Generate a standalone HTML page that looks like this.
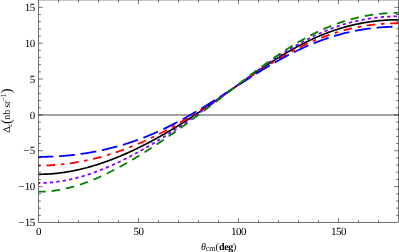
<!DOCTYPE html>
<html><head><meta charset="utf-8"><title>plot</title>
<style>html,body{margin:0;padding:0;background:#fff;}body{width:399px;height:252px;overflow:hidden;font-family:"Liberation Serif",serif;}svg{display:block;will-change:transform;}svg text{text-rendering:geometricPrecision;}</style>
</head><body>
<svg width="399" height="252" viewBox="0 0 399 252">
<rect x="0" y="0" width="399" height="252" fill="#fff"/>
<defs><clipPath id="cp"><rect x="38.50" y="-0.05" width="360.00" height="222.55"/></clipPath></defs>
<line x1="38.50" y1="115.00" x2="398.50" y2="115.00" stroke="#a4a4a4" stroke-width="1.8"/>
<g clip-path="url(#cp)" fill="none" stroke-linecap="butt" stroke-linejoin="round">
<path d="M38.50 174.30 L39.50 174.30 L40.50 174.29 L41.50 174.27 L42.50 174.25 L43.50 174.23 L44.50 174.19 L45.50 174.16 L46.50 174.11 L47.50 174.06 L48.50 174.01 L49.50 173.95 L50.50 173.88 L51.50 173.81 L52.50 173.73 L53.50 173.64 L54.50 173.55 L55.50 173.46 L56.50 173.36 L57.50 173.25 L58.50 173.14 L59.50 173.02 L60.50 172.89 L61.50 172.76 L62.50 172.63 L63.50 172.49 L64.50 172.34 L65.50 172.19 L66.50 172.03 L67.50 171.87 L68.50 171.70 L69.50 171.52 L70.50 171.34 L71.50 171.16 L72.50 170.97 L73.50 170.77 L74.50 170.57 L75.50 170.37 L76.50 170.15 L77.50 169.94 L78.50 169.71 L79.50 169.49 L80.50 169.25 L81.50 169.01 L82.50 168.77 L83.50 168.52 L84.50 168.27 L85.50 168.01 L86.50 167.75 L87.50 167.48 L88.50 167.21 L89.50 166.93 L90.50 166.64 L91.50 166.36 L92.50 166.06 L93.50 165.76 L94.50 165.46 L95.50 165.15 L96.50 164.84 L97.50 164.52 L98.50 164.20 L99.50 163.88 L100.50 163.55 L101.50 163.21 L102.50 162.87 L103.50 162.52 L104.50 162.18 L105.50 161.82 L106.50 161.46 L107.50 161.10 L108.50 160.73 L109.50 160.36 L110.50 159.99 L111.50 159.61 L112.50 159.22 L113.50 158.83 L114.50 158.44 L115.50 158.04 L116.50 157.64 L117.50 157.24 L118.50 156.83 L119.50 156.41 L120.50 156.00 L121.50 155.57 L122.50 155.15 L123.50 154.72 L124.50 154.28 L125.50 153.85 L126.50 153.40 L127.50 152.96 L128.50 152.51 L129.50 152.06 L130.50 151.60 L131.50 151.14 L132.50 150.67 L133.50 150.20 L134.50 149.73 L135.50 149.25 L136.50 148.77 L137.50 148.29 L138.50 147.80 L139.50 147.31 L140.50 146.82 L141.50 146.32 L142.50 145.82 L143.50 145.31 L144.50 144.80 L145.50 144.29 L146.50 143.77 L147.50 143.25 L148.50 142.73 L149.50 142.20 L150.50 141.67 L151.50 141.14 L152.50 140.60 L153.50 140.06 L154.50 139.51 L155.50 138.97 L156.50 138.42 L157.50 137.86 L158.50 137.30 L159.50 136.74 L160.50 136.18 L161.50 135.61 L162.50 135.04 L163.50 134.47 L164.50 133.89 L165.50 133.31 L166.50 132.73 L167.50 132.14 L168.50 131.55 L169.50 130.96 L170.50 130.36 L171.50 129.76 L172.50 129.16 L173.50 128.56 L174.50 127.95 L175.50 127.34 L176.50 126.72 L177.50 126.11 L178.50 125.49 L179.50 124.86 L180.50 124.24 L181.50 123.61 L182.50 122.98 L183.50 122.35 L184.50 121.71 L185.50 121.07 L186.50 120.43 L187.50 119.79 L188.50 119.14 L189.50 118.49 L190.50 117.84 L191.50 117.19 L192.50 116.53 L193.50 115.87 L194.50 115.21 L195.50 114.55 L196.50 113.88 L197.50 113.21 L198.50 112.54 L199.50 111.87 L200.50 111.20 L201.50 110.52 L202.50 109.84 L203.50 109.16 L204.50 108.48 L205.50 107.80 L206.50 107.11 L207.50 106.43 L208.50 105.74 L209.50 105.05 L210.50 104.36 L211.50 103.66 L212.50 102.97 L213.50 102.27 L214.50 101.57 L215.50 100.88 L216.50 100.18 L217.50 99.47 L218.50 98.77 L219.50 98.07 L220.50 97.37 L221.50 96.66 L222.50 95.96 L223.50 95.25 L224.50 94.54 L225.50 93.84 L226.50 93.13 L227.50 92.42 L228.50 91.71 L229.50 91.00 L230.50 90.29 L231.50 89.58 L232.50 88.87 L233.50 88.17 L234.50 87.46 L235.50 86.75 L236.50 86.04 L237.50 85.33 L238.50 84.62 L239.50 83.92 L240.50 83.21 L241.50 82.50 L242.50 81.80 L243.50 81.09 L244.50 80.39 L245.50 79.69 L246.50 78.99 L247.50 78.29 L248.50 77.59 L249.50 76.89 L250.50 76.19 L251.50 75.50 L252.50 74.80 L253.50 74.11 L254.50 73.42 L255.50 72.74 L256.50 72.05 L257.50 71.37 L258.50 70.68 L259.50 70.01 L260.50 69.33 L261.50 68.65 L262.50 67.98 L263.50 67.31 L264.50 66.64 L265.50 65.98 L266.50 65.32 L267.50 64.66 L268.50 64.00 L269.50 63.35 L270.50 62.70 L271.50 62.05 L272.50 61.41 L273.50 60.77 L274.50 60.13 L275.50 59.50 L276.50 58.87 L277.50 58.24 L278.50 57.62 L279.50 57.00 L280.50 56.38 L281.50 55.77 L282.50 55.16 L283.50 54.56 L284.50 53.96 L285.50 53.37 L286.50 52.78 L287.50 52.19 L288.50 51.61 L289.50 51.03 L290.50 50.46 L291.50 49.89 L292.50 49.32 L293.50 48.76 L294.50 48.21 L295.50 47.66 L296.50 47.11 L297.50 46.57 L298.50 46.04 L299.50 45.51 L300.50 44.98 L301.50 44.46 L302.50 43.94 L303.50 43.43 L304.50 42.93 L305.50 42.43 L306.50 41.93 L307.50 41.44 L308.50 40.96 L309.50 40.48 L310.50 40.01 L311.50 39.54 L312.50 39.07 L313.50 38.62 L314.50 38.16 L315.50 37.72 L316.50 37.27 L317.50 36.84 L318.50 36.41 L319.50 35.98 L320.50 35.56 L321.50 35.15 L322.50 34.74 L323.50 34.34 L324.50 33.94 L325.50 33.55 L326.50 33.17 L327.50 32.79 L328.50 32.41 L329.50 32.04 L330.50 31.68 L331.50 31.32 L332.50 30.97 L333.50 30.63 L334.50 30.29 L335.50 29.95 L336.50 29.62 L337.50 29.30 L338.50 28.98 L339.50 28.67 L340.50 28.36 L341.50 28.06 L342.50 27.77 L343.50 27.48 L344.50 27.19 L345.50 26.91 L346.50 26.64 L347.50 26.37 L348.50 26.11 L349.50 25.86 L350.50 25.61 L351.50 25.36 L352.50 25.12 L353.50 24.89 L354.50 24.66 L355.50 24.43 L356.50 24.22 L357.50 24.00 L358.50 23.80 L359.50 23.60 L360.50 23.40 L361.50 23.21 L362.50 23.02 L363.50 22.84 L364.50 22.67 L365.50 22.50 L366.50 22.33 L367.50 22.17 L368.50 22.02 L369.50 21.87 L370.50 21.73 L371.50 21.59 L372.50 21.46 L373.50 21.33 L374.50 21.21 L375.50 21.09 L376.50 20.98 L377.50 20.87 L378.50 20.77 L379.50 20.67 L380.50 20.58 L381.50 20.49 L382.50 20.41 L383.50 20.33 L384.50 20.26 L385.50 20.19 L386.50 20.13 L387.50 20.07 L388.50 20.02 L389.50 19.97 L390.50 19.93 L391.50 19.89 L392.50 19.86 L393.50 19.83 L394.50 19.81 L395.50 19.80 L396.50 19.78 L397.50 19.78 L398.50 19.77" stroke="#000000" stroke-width="1.7"/>
<path d="M38.50 165.58 L39.50 165.58 L40.50 165.58 L41.50 165.56 L42.50 165.55 L43.50 165.53 L44.50 165.50 L45.50 165.47 L46.50 165.44 L47.50 165.40 L48.50 165.36 L49.50 165.31 L50.50 165.26 L51.50 165.20 L52.50 165.14 L53.50 165.08 L54.50 165.01 L55.50 164.93 L56.50 164.85 L57.50 164.77 L58.50 164.68 L59.50 164.59 L60.50 164.50 L61.50 164.39 L62.50 164.29 L63.50 164.18 L64.50 164.06 L65.50 163.95 L66.50 163.82 L67.50 163.69 L68.50 163.56 L69.50 163.43 L70.50 163.29 L71.50 163.14 L72.50 162.99 L73.50 162.84 L74.50 162.68 L75.50 162.51 L76.50 162.35 L77.50 162.18 L78.50 162.00 L79.50 161.82 L80.50 161.63 L81.50 161.45 L82.50 161.25 L83.50 161.05 L84.50 160.85 L85.50 160.65 L86.50 160.44 L87.50 160.22 L88.50 160.00 L89.50 159.78 L90.50 159.55 L91.50 159.32 L92.50 159.08 L93.50 158.84 L94.50 158.60 L95.50 158.35 L96.50 158.09 L97.50 157.84 L98.50 157.57 L99.50 157.31 L100.50 157.04 L101.50 156.76 L102.50 156.48 L103.50 156.20 L104.50 155.91 L105.50 155.62 L106.50 155.33 L107.50 155.03 L108.50 154.72 L109.50 154.42 L110.50 154.10 L111.50 153.79 L112.50 153.47 L113.50 153.14 L114.50 152.81 L115.50 152.48 L116.50 152.14 L117.50 151.80 L118.50 151.46 L119.50 151.11 L120.50 150.75 L121.50 150.39 L122.50 150.03 L123.50 149.67 L124.50 149.30 L125.50 148.92 L126.50 148.55 L127.50 148.16 L128.50 147.78 L129.50 147.39 L130.50 146.99 L131.50 146.59 L132.50 146.19 L133.50 145.79 L134.50 145.37 L135.50 144.96 L136.50 144.54 L137.50 144.12 L138.50 143.69 L139.50 143.26 L140.50 142.83 L141.50 142.39 L142.50 141.95 L143.50 141.50 L144.50 141.05 L145.50 140.60 L146.50 140.14 L147.50 139.68 L148.50 139.21 L149.50 138.74 L150.50 138.27 L151.50 137.79 L152.50 137.31 L153.50 136.82 L154.50 136.33 L155.50 135.84 L156.50 135.35 L157.50 134.84 L158.50 134.34 L159.50 133.83 L160.50 133.32 L161.50 132.81 L162.50 132.29 L163.50 131.76 L164.50 131.24 L165.50 130.71 L166.50 130.17 L167.50 129.64 L168.50 129.10 L169.50 128.55 L170.50 128.01 L171.50 127.45 L172.50 126.90 L173.50 126.34 L174.50 125.78 L175.50 125.21 L176.50 124.65 L177.50 124.07 L178.50 123.50 L179.50 122.92 L180.50 122.34 L181.50 121.76 L182.50 121.17 L183.50 120.58 L184.50 119.98 L185.50 119.39 L186.50 118.79 L187.50 118.18 L188.50 117.58 L189.50 116.97 L190.50 116.36 L191.50 115.74 L192.50 115.13 L193.50 114.51 L194.50 113.89 L195.50 113.26 L196.50 112.63 L197.50 112.00 L198.50 111.37 L199.50 110.74 L200.50 110.10 L201.50 109.46 L202.50 108.82 L203.50 108.18 L204.50 107.53 L205.50 106.88 L206.50 106.23 L207.50 105.58 L208.50 104.93 L209.50 104.27 L210.50 103.61 L211.50 102.96 L212.50 102.29 L213.50 101.63 L214.50 100.97 L215.50 100.30 L216.50 99.64 L217.50 98.97 L218.50 98.30 L219.50 97.63 L220.50 96.96 L221.50 96.29 L222.50 95.62 L223.50 94.94 L224.50 94.27 L225.50 93.60 L226.50 92.92 L227.50 92.24 L228.50 91.57 L229.50 90.89 L230.50 90.21 L231.50 89.54 L232.50 88.86 L233.50 88.18 L234.50 87.50 L235.50 86.83 L236.50 86.15 L237.50 85.47 L238.50 84.80 L239.50 84.12 L240.50 83.45 L241.50 82.77 L242.50 82.10 L243.50 81.43 L244.50 80.75 L245.50 80.08 L246.50 79.41 L247.50 78.74 L248.50 78.08 L249.50 77.41 L250.50 76.75 L251.50 76.08 L252.50 75.42 L253.50 74.76 L254.50 74.10 L255.50 73.45 L256.50 72.79 L257.50 72.14 L258.50 71.49 L259.50 70.84 L260.50 70.19 L261.50 69.55 L262.50 68.91 L263.50 68.27 L264.50 67.63 L265.50 67.00 L266.50 66.37 L267.50 65.74 L268.50 65.11 L269.50 64.49 L270.50 63.87 L271.50 63.26 L272.50 62.64 L273.50 62.03 L274.50 61.43 L275.50 60.82 L276.50 60.22 L277.50 59.63 L278.50 59.03 L279.50 58.45 L280.50 57.86 L281.50 57.28 L282.50 56.70 L283.50 56.13 L284.50 55.56 L285.50 54.99 L286.50 54.43 L287.50 53.87 L288.50 53.32 L289.50 52.77 L290.50 52.23 L291.50 51.69 L292.50 51.15 L293.50 50.62 L294.50 50.09 L295.50 49.57 L296.50 49.05 L297.50 48.54 L298.50 48.03 L299.50 47.53 L300.50 47.03 L301.50 46.54 L302.50 46.05 L303.50 45.57 L304.50 45.09 L305.50 44.61 L306.50 44.14 L307.50 43.68 L308.50 43.22 L309.50 42.77 L310.50 42.32 L311.50 41.88 L312.50 41.44 L313.50 41.00 L314.50 40.58 L315.50 40.15 L316.50 39.74 L317.50 39.32 L318.50 38.92 L319.50 38.51 L320.50 38.12 L321.50 37.73 L322.50 37.34 L323.50 36.96 L324.50 36.59 L325.50 36.22 L326.50 35.85 L327.50 35.49 L328.50 35.14 L329.50 34.79 L330.50 34.45 L331.50 34.11 L332.50 33.78 L333.50 33.45 L334.50 33.13 L335.50 32.82 L336.50 32.51 L337.50 32.20 L338.50 31.90 L339.50 31.61 L340.50 31.32 L341.50 31.03 L342.50 30.75 L343.50 30.48 L344.50 30.21 L345.50 29.95 L346.50 29.69 L347.50 29.44 L348.50 29.19 L349.50 28.95 L350.50 28.72 L351.50 28.48 L352.50 28.26 L353.50 28.04 L354.50 27.82 L355.50 27.61 L356.50 27.41 L357.50 27.21 L358.50 27.01 L359.50 26.82 L360.50 26.64 L361.50 26.46 L362.50 26.28 L363.50 26.11 L364.50 25.95 L365.50 25.79 L366.50 25.63 L367.50 25.48 L368.50 25.34 L369.50 25.20 L370.50 25.06 L371.50 24.93 L372.50 24.80 L373.50 24.68 L374.50 24.57 L375.50 24.46 L376.50 24.35 L377.50 24.25 L378.50 24.15 L379.50 24.06 L380.50 23.98 L381.50 23.89 L382.50 23.82 L383.50 23.74 L384.50 23.68 L385.50 23.61 L386.50 23.55 L387.50 23.50 L388.50 23.45 L389.50 23.41 L390.50 23.37 L391.50 23.33 L392.50 23.30 L393.50 23.28 L394.50 23.25 L395.50 23.24 L396.50 23.23 L397.50 23.22 L398.50 23.22" stroke="#ff0000" stroke-width="1.8" stroke-dasharray="3.6 5.6 8.8 5.595" stroke-dashoffset="1.3"/>
<path d="M38.50 156.87 L39.50 156.87 L40.50 156.86 L41.50 156.86 L42.50 156.85 L43.50 156.83 L44.50 156.81 L45.50 156.79 L46.50 156.77 L47.50 156.74 L48.50 156.71 L49.50 156.68 L50.50 156.64 L51.50 156.60 L52.50 156.56 L53.50 156.51 L54.50 156.46 L55.50 156.41 L56.50 156.35 L57.50 156.29 L58.50 156.23 L59.50 156.17 L60.50 156.10 L61.50 156.03 L62.50 155.95 L63.50 155.87 L64.50 155.79 L65.50 155.70 L66.50 155.61 L67.50 155.52 L68.50 155.43 L69.50 155.33 L70.50 155.23 L71.50 155.12 L72.50 155.01 L73.50 154.90 L74.50 154.78 L75.50 154.66 L76.50 154.54 L77.50 154.42 L78.50 154.29 L79.50 154.15 L80.50 154.02 L81.50 153.88 L82.50 153.73 L83.50 153.59 L84.50 153.44 L85.50 153.28 L86.50 153.12 L87.50 152.96 L88.50 152.80 L89.50 152.63 L90.50 152.46 L91.50 152.28 L92.50 152.10 L93.50 151.92 L94.50 151.73 L95.50 151.54 L96.50 151.34 L97.50 151.15 L98.50 150.94 L99.50 150.74 L100.50 150.53 L101.50 150.32 L102.50 150.10 L103.50 149.88 L104.50 149.65 L105.50 149.42 L106.50 149.19 L107.50 148.95 L108.50 148.71 L109.50 148.47 L110.50 148.22 L111.50 147.97 L112.50 147.71 L113.50 147.45 L114.50 147.18 L115.50 146.91 L116.50 146.64 L117.50 146.36 L118.50 146.08 L119.50 145.80 L120.50 145.51 L121.50 145.22 L122.50 144.92 L123.50 144.62 L124.50 144.31 L125.50 144.00 L126.50 143.69 L127.50 143.37 L128.50 143.04 L129.50 142.72 L130.50 142.39 L131.50 142.05 L132.50 141.71 L133.50 141.37 L134.50 141.02 L135.50 140.67 L136.50 140.31 L137.50 139.95 L138.50 139.58 L139.50 139.21 L140.50 138.84 L141.50 138.46 L142.50 138.08 L143.50 137.69 L144.50 137.30 L145.50 136.91 L146.50 136.51 L147.50 136.10 L148.50 135.69 L149.50 135.28 L150.50 134.87 L151.50 134.44 L152.50 134.02 L153.50 133.59 L154.50 133.16 L155.50 132.72 L156.50 132.27 L157.50 131.83 L158.50 131.38 L159.50 130.92 L160.50 130.46 L161.50 130.00 L162.50 129.53 L163.50 129.06 L164.50 128.59 L165.50 128.11 L166.50 127.62 L167.50 127.14 L168.50 126.64 L169.50 126.15 L170.50 125.65 L171.50 125.15 L172.50 124.64 L173.50 124.13 L174.50 123.61 L175.50 123.09 L176.50 122.57 L177.50 122.04 L178.50 121.51 L179.50 120.98 L180.50 120.44 L181.50 119.90 L182.50 119.36 L183.50 118.81 L184.50 118.26 L185.50 117.70 L186.50 117.14 L187.50 116.58 L188.50 116.02 L189.50 115.45 L190.50 114.88 L191.50 114.30 L192.50 113.73 L193.50 113.14 L194.50 112.56 L195.50 111.98 L196.50 111.39 L197.50 110.79 L198.50 110.20 L199.50 109.60 L200.50 109.00 L201.50 108.40 L202.50 107.79 L203.50 107.19 L204.50 106.58 L205.50 105.96 L206.50 105.35 L207.50 104.73 L208.50 104.12 L209.50 103.49 L210.50 102.87 L211.50 102.25 L212.50 101.62 L213.50 100.99 L214.50 100.36 L215.50 99.73 L216.50 99.10 L217.50 98.47 L218.50 97.83 L219.50 97.20 L220.50 96.56 L221.50 95.92 L222.50 95.28 L223.50 94.64 L224.50 94.00 L225.50 93.35 L226.50 92.71 L227.50 92.07 L228.50 91.42 L229.50 90.78 L230.50 90.13 L231.50 89.49 L232.50 88.84 L233.50 88.20 L234.50 87.55 L235.50 86.91 L236.50 86.26 L237.50 85.62 L238.50 84.97 L239.50 84.33 L240.50 83.69 L241.50 83.04 L242.50 82.40 L243.50 81.76 L244.50 81.12 L245.50 80.48 L246.50 79.84 L247.50 79.20 L248.50 78.57 L249.50 77.93 L250.50 77.30 L251.50 76.67 L252.50 76.04 L253.50 75.41 L254.50 74.78 L255.50 74.15 L256.50 73.53 L257.50 72.91 L258.50 72.29 L259.50 71.67 L260.50 71.06 L261.50 70.44 L262.50 69.83 L263.50 69.23 L264.50 68.62 L265.50 68.02 L266.50 67.42 L267.50 66.82 L268.50 66.23 L269.50 65.63 L270.50 65.05 L271.50 64.46 L272.50 63.88 L273.50 63.30 L274.50 62.72 L275.50 62.15 L276.50 61.58 L277.50 61.01 L278.50 60.45 L279.50 59.89 L280.50 59.34 L281.50 58.79 L282.50 58.24 L283.50 57.69 L284.50 57.15 L285.50 56.62 L286.50 56.09 L287.50 55.56 L288.50 55.03 L289.50 54.51 L290.50 54.00 L291.50 53.49 L292.50 52.98 L293.50 52.48 L294.50 51.98 L295.50 51.49 L296.50 51.00 L297.50 50.51 L298.50 50.03 L299.50 49.55 L300.50 49.08 L301.50 48.62 L302.50 48.16 L303.50 47.70 L304.50 47.25 L305.50 46.80 L306.50 46.36 L307.50 45.92 L308.50 45.48 L309.50 45.06 L310.50 44.63 L311.50 44.21 L312.50 43.80 L313.50 43.39 L314.50 42.99 L315.50 42.59 L316.50 42.20 L317.50 41.81 L318.50 41.42 L319.50 41.05 L320.50 40.67 L321.50 40.30 L322.50 39.94 L323.50 39.58 L324.50 39.23 L325.50 38.88 L326.50 38.54 L327.50 38.20 L328.50 37.87 L329.50 37.54 L330.50 37.22 L331.50 36.90 L332.50 36.59 L333.50 36.28 L334.50 35.98 L335.50 35.68 L336.50 35.39 L337.50 35.10 L338.50 34.82 L339.50 34.54 L340.50 34.27 L341.50 34.00 L342.50 33.74 L343.50 33.48 L344.50 33.23 L345.50 32.99 L346.50 32.74 L347.50 32.51 L348.50 32.27 L349.50 32.05 L350.50 31.83 L351.50 31.61 L352.50 31.40 L353.50 31.19 L354.50 30.99 L355.50 30.79 L356.50 30.60 L357.50 30.41 L358.50 30.22 L359.50 30.04 L360.50 29.87 L361.50 29.70 L362.50 29.54 L363.50 29.38 L364.50 29.22 L365.50 29.07 L366.50 28.93 L367.50 28.79 L368.50 28.65 L369.50 28.52 L370.50 28.39 L371.50 28.27 L372.50 28.15 L373.50 28.04 L374.50 27.93 L375.50 27.83 L376.50 27.73 L377.50 27.63 L378.50 27.54 L379.50 27.45 L380.50 27.37 L381.50 27.30 L382.50 27.22 L383.50 27.16 L384.50 27.09 L385.50 27.03 L386.50 26.98 L387.50 26.93 L388.50 26.88 L389.50 26.84 L390.50 26.80 L391.50 26.77 L392.50 26.74 L393.50 26.72 L394.50 26.70 L395.50 26.68 L396.50 26.67 L397.50 26.66 L398.50 26.66" stroke="#0000ff" stroke-width="1.8" stroke-dasharray="15.9 5.77" stroke-dashoffset="1.1"/>
<path d="M38.50 183.01 L39.50 183.01 L40.50 183.00 L41.50 182.98 L42.50 182.95 L43.50 182.92 L44.50 182.88 L45.50 182.84 L46.50 182.78 L47.50 182.72 L48.50 182.65 L49.50 182.58 L50.50 182.50 L51.50 182.41 L52.50 182.31 L53.50 182.21 L54.50 182.10 L55.50 181.98 L56.50 181.86 L57.50 181.73 L58.50 181.59 L59.50 181.44 L60.50 181.29 L61.50 181.13 L62.50 180.97 L63.50 180.79 L64.50 180.62 L65.50 180.43 L66.50 180.24 L67.50 180.04 L68.50 179.83 L69.50 179.62 L70.50 179.40 L71.50 179.18 L72.50 178.95 L73.50 178.71 L74.50 178.47 L75.50 178.22 L76.50 177.96 L77.50 177.70 L78.50 177.43 L79.50 177.15 L80.50 176.87 L81.50 176.58 L82.50 176.29 L83.50 175.99 L84.50 175.69 L85.50 175.38 L86.50 175.06 L87.50 174.74 L88.50 174.41 L89.50 174.08 L90.50 173.74 L91.50 173.39 L92.50 173.04 L93.50 172.69 L94.50 172.33 L95.50 171.96 L96.50 171.59 L97.50 171.21 L98.50 170.83 L99.50 170.45 L100.50 170.05 L101.50 169.66 L102.50 169.26 L103.50 168.85 L104.50 168.44 L105.50 168.02 L106.50 167.60 L107.50 167.18 L108.50 166.75 L109.50 166.31 L110.50 165.87 L111.50 165.43 L112.50 164.98 L113.50 164.53 L114.50 164.07 L115.50 163.61 L116.50 163.14 L117.50 162.67 L118.50 162.20 L119.50 161.72 L120.50 161.24 L121.50 160.75 L122.50 160.26 L123.50 159.77 L124.50 159.27 L125.50 158.77 L126.50 158.26 L127.50 157.75 L128.50 157.24 L129.50 156.72 L130.50 156.20 L131.50 155.68 L132.50 155.15 L133.50 154.62 L134.50 154.09 L135.50 153.55 L136.50 153.01 L137.50 152.46 L138.50 151.91 L139.50 151.36 L140.50 150.80 L141.50 150.25 L142.50 149.68 L143.50 149.12 L144.50 148.55 L145.50 147.98 L146.50 147.40 L147.50 146.82 L148.50 146.24 L149.50 145.66 L150.50 145.07 L151.50 144.48 L152.50 143.89 L153.50 143.29 L154.50 142.69 L155.50 142.09 L156.50 141.49 L157.50 140.88 L158.50 140.27 L159.50 139.65 L160.50 139.04 L161.50 138.42 L162.50 137.79 L163.50 137.17 L164.50 136.54 L165.50 135.91 L166.50 135.28 L167.50 134.64 L168.50 134.00 L169.50 133.36 L170.50 132.72 L171.50 132.07 L172.50 131.42 L173.50 130.77 L174.50 130.12 L175.50 129.46 L176.50 128.80 L177.50 128.14 L178.50 127.47 L179.50 126.81 L180.50 126.14 L181.50 125.47 L182.50 124.79 L183.50 124.12 L184.50 123.44 L185.50 122.76 L186.50 122.08 L187.50 121.39 L188.50 120.70 L189.50 120.01 L190.50 119.32 L191.50 118.63 L192.50 117.93 L193.50 117.24 L194.50 116.54 L195.50 115.83 L196.50 115.13 L197.50 114.42 L198.50 113.72 L199.50 113.01 L200.50 112.30 L201.50 111.58 L202.50 110.87 L203.50 110.15 L204.50 109.44 L205.50 108.72 L206.50 108.00 L207.50 107.27 L208.50 106.55 L209.50 105.82 L210.50 105.10 L211.50 104.37 L212.50 103.64 L213.50 102.91 L214.50 102.18 L215.50 101.45 L216.50 100.71 L217.50 99.98 L218.50 99.24 L219.50 98.51 L220.50 97.77 L221.50 97.03 L222.50 96.29 L223.50 95.56 L224.50 94.82 L225.50 94.08 L226.50 93.34 L227.50 92.60 L228.50 91.85 L229.50 91.11 L230.50 90.37 L231.50 89.63 L232.50 88.89 L233.50 88.15 L234.50 87.41 L235.50 86.67 L236.50 85.93 L237.50 85.19 L238.50 84.45 L239.50 83.71 L240.50 82.97 L241.50 82.23 L242.50 81.50 L243.50 80.76 L244.50 80.03 L245.50 79.29 L246.50 78.56 L247.50 77.83 L248.50 77.10 L249.50 76.37 L250.50 75.64 L251.50 74.91 L252.50 74.19 L253.50 73.47 L254.50 72.75 L255.50 72.03 L256.50 71.31 L257.50 70.60 L258.50 69.88 L259.50 69.17 L260.50 68.46 L261.50 67.76 L262.50 67.05 L263.50 66.35 L264.50 65.65 L265.50 64.96 L266.50 64.27 L267.50 63.58 L268.50 62.89 L269.50 62.21 L270.50 61.52 L271.50 60.85 L272.50 60.17 L273.50 59.50 L274.50 58.83 L275.50 58.17 L276.50 57.51 L277.50 56.85 L278.50 56.20 L279.50 55.55 L280.50 54.91 L281.50 54.27 L282.50 53.63 L283.50 53.00 L284.50 52.37 L285.50 51.74 L286.50 51.12 L287.50 50.51 L288.50 49.90 L289.50 49.29 L290.50 48.69 L291.50 48.09 L292.50 47.50 L293.50 46.91 L294.50 46.32 L295.50 45.75 L296.50 45.17 L297.50 44.60 L298.50 44.04 L299.50 43.48 L300.50 42.93 L301.50 42.38 L302.50 41.84 L303.50 41.30 L304.50 40.77 L305.50 40.24 L306.50 39.72 L307.50 39.21 L308.50 38.70 L309.50 38.19 L310.50 37.69 L311.50 37.20 L312.50 36.71 L313.50 36.23 L314.50 35.75 L315.50 35.28 L316.50 34.81 L317.50 34.35 L318.50 33.90 L319.50 33.45 L320.50 33.01 L321.50 32.57 L322.50 32.14 L323.50 31.72 L324.50 31.30 L325.50 30.89 L326.50 30.48 L327.50 30.08 L328.50 29.69 L329.50 29.30 L330.50 28.91 L331.50 28.54 L332.50 28.16 L333.50 27.80 L334.50 27.44 L335.50 27.09 L336.50 26.74 L337.50 26.40 L338.50 26.06 L339.50 25.73 L340.50 25.41 L341.50 25.09 L342.50 24.78 L343.50 24.47 L344.50 24.17 L345.50 23.88 L346.50 23.59 L347.50 23.31 L348.50 23.03 L349.50 22.76 L350.50 22.50 L351.50 22.24 L352.50 21.98 L353.50 21.74 L354.50 21.49 L355.50 21.26 L356.50 21.03 L357.50 20.80 L358.50 20.58 L359.50 20.37 L360.50 20.16 L361.50 19.96 L362.50 19.76 L363.50 19.57 L364.50 19.39 L365.50 19.21 L366.50 19.04 L367.50 18.87 L368.50 18.71 L369.50 18.55 L370.50 18.40 L371.50 18.25 L372.50 18.11 L373.50 17.97 L374.50 17.84 L375.50 17.72 L376.50 17.60 L377.50 17.49 L378.50 17.38 L379.50 17.28 L380.50 17.18 L381.50 17.09 L382.50 17.00 L383.50 16.92 L384.50 16.84 L385.50 16.77 L386.50 16.71 L387.50 16.65 L388.50 16.59 L389.50 16.54 L390.50 16.50 L391.50 16.46 L392.50 16.42 L393.50 16.39 L394.50 16.37 L395.50 16.35 L396.50 16.34 L397.50 16.33 L398.50 16.33" stroke="#8000ff" stroke-width="1.8" stroke-dasharray="3.3 3.16" stroke-dashoffset="1.5"/>
<path d="M38.50 191.73 L39.50 191.72 L40.50 191.71 L41.50 191.69 L42.50 191.66 L43.50 191.62 L44.50 191.57 L45.50 191.52 L46.50 191.45 L47.50 191.38 L48.50 191.30 L49.50 191.21 L50.50 191.12 L51.50 191.01 L52.50 190.90 L53.50 190.77 L54.50 190.64 L55.50 190.50 L56.50 190.36 L57.50 190.20 L58.50 190.04 L59.50 189.87 L60.50 189.69 L61.50 189.50 L62.50 189.31 L63.50 189.10 L64.50 188.89 L65.50 188.67 L66.50 188.45 L67.50 188.21 L68.50 187.97 L69.50 187.72 L70.50 187.46 L71.50 187.20 L72.50 186.93 L73.50 186.65 L74.50 186.36 L75.50 186.07 L76.50 185.76 L77.50 185.46 L78.50 185.14 L79.50 184.82 L80.50 184.49 L81.50 184.15 L82.50 183.81 L83.50 183.46 L84.50 183.10 L85.50 182.74 L86.50 182.37 L87.50 182.00 L88.50 181.61 L89.50 181.23 L90.50 180.83 L91.50 180.43 L92.50 180.02 L93.50 179.61 L94.50 179.19 L95.50 178.77 L96.50 178.34 L97.50 177.90 L98.50 177.46 L99.50 177.01 L100.50 176.56 L101.50 176.10 L102.50 175.64 L103.50 175.17 L104.50 174.70 L105.50 174.22 L106.50 173.74 L107.50 173.25 L108.50 172.76 L109.50 172.26 L110.50 171.76 L111.50 171.25 L112.50 170.74 L113.50 170.22 L114.50 169.70 L115.50 169.17 L116.50 168.64 L117.50 168.11 L118.50 167.57 L119.50 167.03 L120.50 166.48 L121.50 165.93 L122.50 165.38 L123.50 164.82 L124.50 164.26 L125.50 163.69 L126.50 163.12 L127.50 162.55 L128.50 161.97 L129.50 161.39 L130.50 160.81 L131.50 160.22 L132.50 159.63 L133.50 159.04 L134.50 158.44 L135.50 157.84 L136.50 157.24 L137.50 156.63 L138.50 156.02 L139.50 155.41 L140.50 154.79 L141.50 154.17 L142.50 153.55 L143.50 152.93 L144.50 152.30 L145.50 151.67 L146.50 151.04 L147.50 150.40 L148.50 149.76 L149.50 149.12 L150.50 148.47 L151.50 147.83 L152.50 147.18 L153.50 146.53 L154.50 145.87 L155.50 145.22 L156.50 144.56 L157.50 143.89 L158.50 143.23 L159.50 142.56 L160.50 141.89 L161.50 141.22 L162.50 140.55 L163.50 139.87 L164.50 139.19 L165.50 138.51 L166.50 137.83 L167.50 137.14 L168.50 136.46 L169.50 135.77 L170.50 135.07 L171.50 134.38 L172.50 133.68 L173.50 132.99 L174.50 132.28 L175.50 131.58 L176.50 130.88 L177.50 130.17 L178.50 129.46 L179.50 128.75 L180.50 128.04 L181.50 127.32 L182.50 126.61 L183.50 125.89 L184.50 125.17 L185.50 124.44 L186.50 123.72 L187.50 122.99 L188.50 122.27 L189.50 121.54 L190.50 120.80 L191.50 120.07 L192.50 119.34 L193.50 118.60 L194.50 117.86 L195.50 117.12 L196.50 116.38 L197.50 115.63 L198.50 114.89 L199.50 114.14 L200.50 113.39 L201.50 112.65 L202.50 111.89 L203.50 111.14 L204.50 110.39 L205.50 109.63 L206.50 108.88 L207.50 108.12 L208.50 107.36 L209.50 106.60 L210.50 105.84 L211.50 105.08 L212.50 104.31 L213.50 103.55 L214.50 102.78 L215.50 102.02 L216.50 101.25 L217.50 100.48 L218.50 99.71 L219.50 98.94 L220.50 98.17 L221.50 97.40 L222.50 96.63 L223.50 95.86 L224.50 95.09 L225.50 94.32 L226.50 93.54 L227.50 92.77 L228.50 92.00 L229.50 91.22 L230.50 90.45 L231.50 89.68 L232.50 88.91 L233.50 88.13 L234.50 87.36 L235.50 86.59 L236.50 85.81 L237.50 85.04 L238.50 84.27 L239.50 83.50 L240.50 82.73 L241.50 81.96 L242.50 81.19 L243.50 80.43 L244.50 79.66 L245.50 78.90 L246.50 78.13 L247.50 77.37 L248.50 76.61 L249.50 75.85 L250.50 75.09 L251.50 74.33 L252.50 73.57 L253.50 72.82 L254.50 72.07 L255.50 71.32 L256.50 70.57 L257.50 69.82 L258.50 69.08 L259.50 68.34 L260.50 67.60 L261.50 66.86 L262.50 66.13 L263.50 65.40 L264.50 64.67 L265.50 63.94 L266.50 63.22 L267.50 62.49 L268.50 61.78 L269.50 61.06 L270.50 60.35 L271.50 59.64 L272.50 58.94 L273.50 58.24 L274.50 57.54 L275.50 56.84 L276.50 56.15 L277.50 55.47 L278.50 54.78 L279.50 54.11 L280.50 53.43 L281.50 52.76 L282.50 52.09 L283.50 51.43 L284.50 50.77 L285.50 50.12 L286.50 49.47 L287.50 48.82 L288.50 48.18 L289.50 47.55 L290.50 46.92 L291.50 46.29 L292.50 45.67 L293.50 45.05 L294.50 44.44 L295.50 43.83 L296.50 43.23 L297.50 42.64 L298.50 42.04 L299.50 41.46 L300.50 40.88 L301.50 40.30 L302.50 39.73 L303.50 39.17 L304.50 38.61 L305.50 38.06 L306.50 37.51 L307.50 36.97 L308.50 36.43 L309.50 35.90 L310.50 35.38 L311.50 34.86 L312.50 34.35 L313.50 33.84 L314.50 33.34 L315.50 32.84 L316.50 32.35 L317.50 31.87 L318.50 31.39 L319.50 30.92 L320.50 30.46 L321.50 30.00 L322.50 29.55 L323.50 29.10 L324.50 28.66 L325.50 28.22 L326.50 27.80 L327.50 27.37 L328.50 26.96 L329.50 26.55 L330.50 26.15 L331.50 25.75 L332.50 25.36 L333.50 24.97 L334.50 24.59 L335.50 24.22 L336.50 23.86 L337.50 23.50 L338.50 23.14 L339.50 22.80 L340.50 22.45 L341.50 22.12 L342.50 21.79 L343.50 21.47 L344.50 21.15 L345.50 20.84 L346.50 20.54 L347.50 20.24 L348.50 19.95 L349.50 19.66 L350.50 19.39 L351.50 19.11 L352.50 18.85 L353.50 18.58 L354.50 18.33 L355.50 18.08 L356.50 17.84 L357.50 17.60 L358.50 17.37 L359.50 17.15 L360.50 16.93 L361.50 16.71 L362.50 16.51 L363.50 16.31 L364.50 16.11 L365.50 15.92 L366.50 15.74 L367.50 15.56 L368.50 15.39 L369.50 15.22 L370.50 15.06 L371.50 14.91 L372.50 14.76 L373.50 14.62 L374.50 14.48 L375.50 14.35 L376.50 14.23 L377.50 14.11 L378.50 13.99 L379.50 13.88 L380.50 13.78 L381.50 13.68 L382.50 13.59 L383.50 13.51 L384.50 13.43 L385.50 13.35 L386.50 13.28 L387.50 13.22 L388.50 13.16 L389.50 13.11 L390.50 13.06 L391.50 13.02 L392.50 12.98 L393.50 12.95 L394.50 12.93 L395.50 12.91 L396.50 12.90 L397.50 12.89 L398.50 12.88" stroke="#008000" stroke-width="1.8" stroke-dasharray="8.5 6.0" stroke-dashoffset="1.35"/>
</g>
<g stroke="#000" stroke-width="0.55" fill="none">
<rect x="38.50" y="-0.05" width="360.00" height="222.55"/>
<path d="M58.50 222.50V220.10M58.50 -0.05V2.35M78.50 222.50V220.10M78.50 -0.05V2.35M98.50 222.50V220.10M98.50 -0.05V2.35M118.50 222.50V220.10M118.50 -0.05V2.35M138.50 222.50V218.20M138.50 -0.05V4.25M158.50 222.50V220.10M158.50 -0.05V2.35M178.50 222.50V220.10M178.50 -0.05V2.35M198.50 222.50V220.10M198.50 -0.05V2.35M218.50 222.50V220.10M218.50 -0.05V2.35M238.50 222.50V218.20M238.50 -0.05V4.25M258.50 222.50V220.10M258.50 -0.05V2.35M278.50 222.50V220.10M278.50 -0.05V2.35M298.50 222.50V220.10M298.50 -0.05V2.35M318.50 222.50V220.10M318.50 -0.05V2.35M338.50 222.50V218.20M338.50 -0.05V4.25M358.50 222.50V220.10M358.50 -0.05V2.35M378.50 222.50V220.10M378.50 -0.05V2.35M38.50 215.32H40.90M398.50 215.32H396.10M38.50 208.15H40.90M398.50 208.15H396.10M38.50 200.98H40.90M398.50 200.98H396.10M38.50 193.80H40.90M398.50 193.80H396.10M38.50 186.63H42.80M398.50 186.63H394.20M38.50 179.46H40.90M398.50 179.46H396.10M38.50 172.28H40.90M398.50 172.28H396.10M38.50 165.11H40.90M398.50 165.11H396.10M38.50 157.94H40.90M398.50 157.94H396.10M38.50 150.77H42.80M398.50 150.77H394.20M38.50 143.59H40.90M398.50 143.59H396.10M38.50 136.42H40.90M398.50 136.42H396.10M38.50 129.25H40.90M398.50 129.25H396.10M38.50 122.07H40.90M398.50 122.07H396.10M38.50 114.90H42.80M398.50 114.90H394.20M38.50 107.73H40.90M398.50 107.73H396.10M38.50 100.55H40.90M398.50 100.55H396.10M38.50 93.38H40.90M398.50 93.38H396.10M38.50 86.21H40.90M398.50 86.21H396.10M38.50 79.03H42.80M398.50 79.03H394.20M38.50 71.86H40.90M398.50 71.86H396.10M38.50 64.69H40.90M398.50 64.69H396.10M38.50 57.52H40.90M398.50 57.52H396.10M38.50 50.34H40.90M398.50 50.34H396.10M38.50 43.17H42.80M398.50 43.17H394.20M38.50 36.00H40.90M398.50 36.00H396.10M38.50 28.82H40.90M398.50 28.82H396.10M38.50 21.65H40.90M398.50 21.65H396.10M38.50 14.48H40.90M398.50 14.48H396.10M38.50 7.31H42.80M398.50 7.31H394.20"/>
</g>
<g font-family="Liberation Serif, serif" font-size="11" letter-spacing="-0.45" fill="#000">
<text x="34.9" y="226.19" text-anchor="end"><tspan letter-spacing="0.3">−</tspan>15</text>
<text x="34.9" y="190.33" text-anchor="end"><tspan letter-spacing="0.3">−</tspan>10</text>
<text x="34.9" y="154.47" text-anchor="end"><tspan letter-spacing="0.3">−</tspan>5</text>
<text x="34.9" y="118.60" text-anchor="end">0</text>
<text x="34.9" y="82.73" text-anchor="end">5</text>
<text x="34.9" y="46.87" text-anchor="end">10</text>
<text x="34.9" y="11.01" text-anchor="end">15</text>
<text x="38.50" y="234.8" text-anchor="middle">0</text>
<text x="138.50" y="234.8" text-anchor="middle">50</text>
<text x="238.50" y="234.8" text-anchor="middle">100</text>
<text x="338.50" y="234.8" text-anchor="middle">150</text>
</g>
<text x="200.9" y="249.8" font-family="Liberation Serif, serif" font-size="10" fill="#000"><tspan font-style="italic">θ</tspan><tspan font-size="8" dy="1.4" letter-spacing="0">cm</tspan><tspan dy="-1.4">(</tspan><tspan font-weight="bold" letter-spacing="-0.3">deg</tspan><tspan>)</tspan></text>
<g transform="translate(10.3,132.7) rotate(-90)" font-family="Liberation Serif, serif" fill="#000">
<text x="0.00" y="0.00" font-size="10">Δ</text>
<text x="5.90" y="1.50" font-size="7">c</text>
<text x="8.70" y="0.80" font-size="14.5">(</text>
<text x="13.00" y="0.00" font-size="10">nb</text>
<text x="24.90" y="0.00" font-size="10">sr</text>
<text x="31.20" y="-4.60" font-size="7.6" letter-spacing="-0.2">−1</text>
<text x="39.50" y="0.80" font-size="14.5">)</text>
</g>
</svg>
</body></html>
